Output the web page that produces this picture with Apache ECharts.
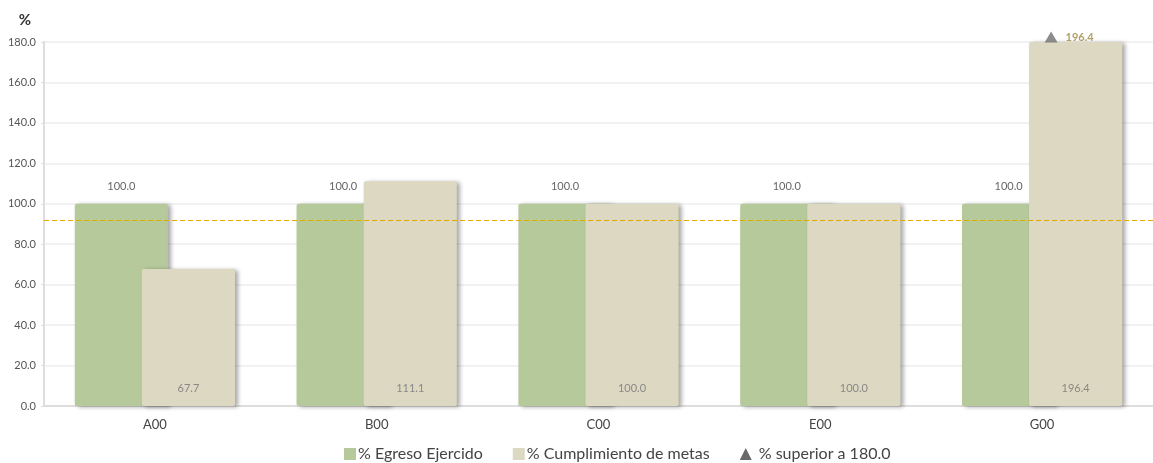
<!DOCTYPE html>
<html>
<head>
<meta charset="utf-8">
<script src="https://cdn.jsdelivr.net/npm/echarts@6/dist/echarts.min.js"></script>
<style>
html,body{margin:0;padding:0;background:#fff;}
#c{width:1153px;height:463px;}
</style>
</head>
<body>
<div id="c"></div>
<script>
var categories = ['A00', 'B00', 'C00', 'E00', 'G00'];
var egreso = [100.0, 100.0, 100.0, 100.0, 100.0];
var cumplimiento = [67.7, 111.1, 100.0, 100.0, 196.4];
var yTicks = { min: 0, max: 180, interval: 20 };
var referenceLine = 92.0;
var threshold = 180.0;

var overflow = cumplimiento.map(function (v) { return v > threshold ? threshold : null; });

var chart = echarts.init(document.getElementById('c'));
var shadow = { shadowColor: 'rgba(0,0,0,0.35)', shadowBlur: 4, shadowOffsetX: 3, shadowOffsetY: 1 };

chart.setOption({
  animation: false,
  textStyle: { fontFamily: 'Lato' },
  grid: { left: 44, right: 0, top: 42, bottom: 57, containLabel: false },
  legend: {
    top: 441,
    left: 339,
    itemGap: 30,
    itemWidth: 12,
    itemHeight: 12,
    textStyle: { fontFamily: 'Lato', fontSize: 16, color: '#444', padding: [0, 0, 0, -3] },
    data: [
      { name: '% Egreso Ejercido', icon: 'rect' },
      { name: '% Cumplimiento de metas', icon: 'rect' },
      { name: '% superior a 180.0', icon: 'triangle', itemStyle: { color: '#444' },
        textStyle: { padding: [0, 0, 0, 2] } }
    ]
  },
  xAxis: {
    type: 'category',
    data: categories,
    axisLine: { lineStyle: { color: '#ddd', width: 2 } },
    axisTick: { show: false },
    axisLabel: { color: '#444', fontSize: 13, margin: 12, fontFamily: 'Lato' }
  },
  yAxis: {
    type: 'value',
    min: yTicks.min,
    max: yTicks.max,
    interval: yTicks.interval,
    name: '%',
    nameLocation: 'end',
    nameGap: 14,
    nameTextStyle: { color: '#333', fontSize: 15, fontWeight: 'bold', align: 'right', padding: [0, 13, 0, 0] },
    axisLine: { show: true, lineStyle: { color: '#ddd', width: 2 } },
    axisTick: { show: true, length: 3, lineStyle: { color: '#ddd' } },
    axisLabel: { color: '#555', fontSize: 11, margin: 8, formatter: function (v) { return v.toFixed(1); } },
    splitLine: { lineStyle: { color: '#eeeeee', width: 1.5 } }
  },
  series: [
    {
      name: '% Egreso Ejercido',
      type: 'bar',
      data: egreso,
      barWidth: '42%',
      barGap: '-28%',
      itemStyle: Object.assign({ color: '#b5c99a', borderRadius: 2 }, shadow),
      label: {
        show: true, position: 'top', distance: 12, color: '#666', fontSize: 11,
        formatter: function (p) { return p.value.toFixed(1); }
      },
      markLine: {
        silent: true,
        symbol: 'none',
        label: { show: false },
        lineStyle: { color: '#e0a800', type: [5, 3], width: 1.2 },
        data: [{ yAxis: referenceLine }]
      }
    },
    {
      name: '% Cumplimiento de metas',
      type: 'bar',
      data: cumplimiento,
      barWidth: '42%',
      itemStyle: Object.assign({ color: '#ddd8c1', borderRadius: 2 }, shadow),
      label: {
        show: true, position: 'insideBottom', distance: 12, color: '#888', fontSize: 11,
        formatter: function (p) { return p.value.toFixed(1); }
      }
    },
    {
      name: '% superior a 180.0',
      type: 'scatter',
      data: overflow,
      symbol: 'triangle',
      symbolSize: [13, 11],
      symbolOffset: [9, -5],
      itemStyle: { color: '#6f6f6f' },
      z: 5,
      label: {
        show: true, position: 'right', distance: 8, color: '#9b8a3c', fontSize: 11, fontWeight: 'bold',
        formatter: function (p) { return cumplimiento[p.dataIndex].toFixed(1); }
      }
    }
  ]
});
</script>
</body>
</html>
